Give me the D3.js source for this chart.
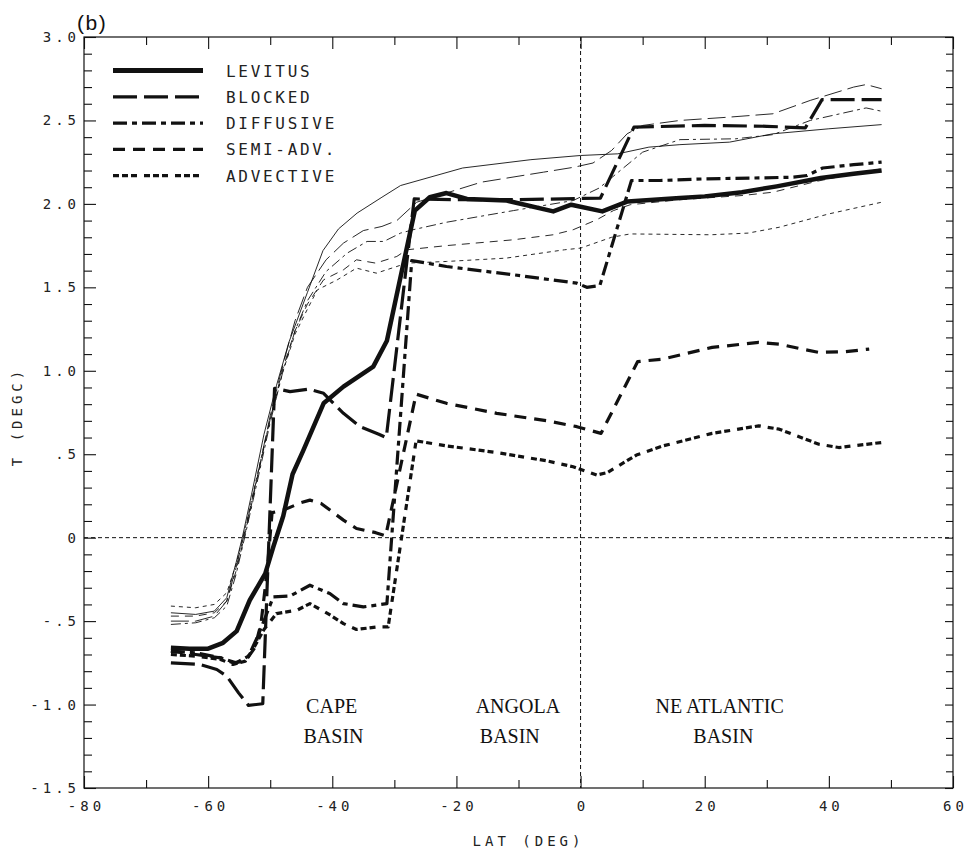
<!DOCTYPE html>
<html>
<head>
<meta charset="utf-8">
<script src="https://cdn.jsdelivr.net/npm/d3@7"></script>
<style>
  html, body { margin: 0; padding: 0; background: #fff; }
  svg { display: block; }
  .tick-label { font-family: "DejaVu Sans Mono", monospace; font-size: 14px; letter-spacing: 4px; fill: #222; }
  .legend-label { font-family: "DejaVu Sans Mono", monospace; font-size: 16px; letter-spacing: 2.7px; fill: #222; }
  .basin { font-family: "Liberation Serif", "Times New Roman", serif; font-size: 20px; fill: #111; }
</style>
</head>
<body>
<svg id="chart" width="967" height="854"></svg>
<script>
// Bottom-water temperature along the section: Levitus climatology and four model runs.
// Each series is a list of [latitude (deg), temperature (degC)].
const levitus = [
  [-66,-0.66],[-63,-0.665],[-60,-0.665],[-57.6,-0.63],[-55.4,-0.56],[-53.3,-0.375],[-50.8,-0.215],
  [-49.5,-0.055],[-47.9,0.13],[-46.4,0.38],[-44.7,0.52],[-41.4,0.805],[-38.2,0.905],[-33.4,1.025],
  [-31.2,1.18],[-29.1,1.545],[-26.7,1.96],[-24.3,2.04],[-21.6,2.065],[-18.3,2.03],[-11.9,2.02],
  [-4.4,1.955],[-1.5,1.995],[3.5,1.955],[7.6,2.015],[16,2.035],[20,2.045],[26,2.07],[31.6,2.105],
  [38.7,2.155],[44,2.18],[48.5,2.2]
];
const blocked = [
  [-66,-0.75],[-61.3,-0.76],[-58.6,-0.79],[-57,-0.83],[-55.1,-0.93],[-53.5,-1.005],[-51.2,-0.995],
  [-49.3,0.895],[-46.8,0.875],[-43.8,0.89],[-41.4,0.865],[-38.2,0.745],[-35.5,0.665],[-32.5,0.62],
  [-31.3,0.6],[-26.8,2.03],[-20,2.025],[-10,2.025],[3.2,2.035],[8.6,2.46],[20,2.47],[30,2.465],
  [36.2,2.455],[38.9,2.625],[48.5,2.625]
];
const diffusive = [
  [-66,-0.68],[-62,-0.69],[-58,-0.72],[-55.5,-0.75],[-53.5,-0.71],[-52,-0.59],[-50.5,-0.45],
  [-49.5,-0.355],[-46.8,-0.35],[-43.6,-0.285],[-40.4,-0.335],[-38.2,-0.395],[-35,-0.415],[-31.2,-0.395],
  [-27.2,1.66],[-21.6,1.625],[-10.8,1.575],[-0.6,1.525],[1,1.5],[3.1,1.51],[8.2,2.14],[12.8,2.14],
  [20,2.15],[28,2.155],[34.3,2.16],[36.5,2.17],[39,2.215],[44,2.235],[48.5,2.25]
];
const semiAdv = [
  [-66,-0.68],[-62,-0.7],[-58,-0.72],[-56,-0.75],[-54,-0.74],[-52.5,-0.66],[-51.5,-0.52],[-50.5,-0.2],
  [-49.7,0.15],[-47.9,0.165],[-45,0.21],[-43.6,0.225],[-41.8,0.205],[-38.2,0.105],[-36.1,0.055],
  [-33,0.03],[-31.4,0.01],[-26.5,0.86],[-21.6,0.805],[-13.5,0.745],[-5.4,0.7],[-0.6,0.665],[3.3,0.625],
  [9.2,1.055],[13.2,1.07],[21.2,1.14],[28.7,1.17],[32,1.16],[35.7,1.13],[38.4,1.11],[42.7,1.115],[46.5,1.13]
];
const advective = [
  [-66,-0.7],[-62,-0.71],[-58,-0.73],[-56,-0.76],[-54,-0.74],[-52.5,-0.65],[-51,-0.55],[-49,-0.455],
  [-45.7,-0.435],[-43.6,-0.395],[-40.5,-0.46],[-38.2,-0.515],[-36.1,-0.55],[-32.8,-0.535],[-31,-0.535],
  [-26.5,0.58],[-21.6,0.55],[-13.5,0.51],[-5.4,0.46],[-1.2,0.425],[2.6,0.375],[4.3,0.39],[9,0.495],
  [13.3,0.55],[21.2,0.625],[28.7,0.67],[32,0.65],[38.4,0.56],[41.6,0.54],[48.5,0.57]
];

// Companion set drawn with thin strokes in the same dash styles.
const levitusThin = [
  [-66,-0.45],[-62,-0.46],[-59,-0.44],[-57,-0.36],[-55.5,-0.15],[-54.5,0],[-53,0.26],[-51,0.62],
  [-49,0.91],[-47,1.17],[-44,1.47],[-41.5,1.72],[-39,1.85],[-36,1.945],[-32,2.04],[-29,2.11],
  [-19,2.215],[-8,2.265],[0,2.29],[6,2.3],[11,2.34],[16,2.355],[24,2.37],[31,2.42],[40,2.45],[48.5,2.475]
];
const blockedThin = [
  [-66,-0.5],[-62,-0.5],[-59,-0.47],[-57,-0.38],[-55.5,-0.18],[-54,0.05],[-52,0.38],[-50,0.73],
  [-48,1.03],[-46,1.3],[-44,1.5],[-41,1.665],[-38.2,1.765],[-35,1.84],[-32,1.865],[-29.6,1.9],
  [-26.4,2.01],[-16,2.13],[-6,2.19],[-1,2.22],[2,2.245],[5,2.32],[7.5,2.42],[10,2.47],[16,2.5],
  [24,2.52],[31,2.54],[37,2.62],[44,2.7],[46,2.715],[48.5,2.69]
];
const diffusiveThin = [
  [-66,-0.52],[-62,-0.51],[-59,-0.48],[-57,-0.41],[-55.5,-0.22],[-54,0.02],[-52,0.35],[-50,0.69],
  [-48,0.99],[-46,1.24],[-44,1.42],[-41,1.595],[-37.6,1.705],[-34.4,1.775],[-31.7,1.775],[-29,1.825],
  [-27,1.845],[-21.6,1.89],[-10.8,1.96],[-1.2,2.02],[3,2.095],[6.4,2.2],[10,2.31],[16,2.385],
  [25,2.39],[31,2.415],[37,2.5],[46,2.575],[48.5,2.555]
];
const semiAdvThin = [
  [-66,-0.47],[-62,-0.47],[-59,-0.45],[-57,-0.38],[-55.5,-0.2],[-54,0.03],[-52,0.37],[-50,0.71],
  [-48,1.01],[-46,1.24],[-44,1.4],[-41.4,1.545],[-38.2,1.605],[-36.1,1.665],[-33,1.645],[-29.6,1.685],
  [-28,1.725],[-21.6,1.75],[-10.8,1.785],[-4.4,1.815],[-1.2,1.845],[2.6,1.905],[5.3,1.96],[8,1.995],
  [16,2.025],[26,2.05],[31,2.07],[38,2.135],[44,2.18],[48.5,2.21]
];
const advectiveThin = [
  [-66,-0.41],[-62,-0.42],[-59,-0.4],[-57,-0.33],[-55.5,-0.16],[-54,0.06],[-52,0.39],[-50,0.71],
  [-48,0.99],[-46,1.22],[-44,1.37],[-42.4,1.485],[-39.2,1.545],[-36.1,1.615],[-32.9,1.585],[-29.6,1.625],
  [-28,1.645],[-21.6,1.655],[-12,1.675],[-2.6,1.725],[0,1.735],[5,1.8],[8,1.82],[21,1.815],[27,1.825],
  [32,1.86],[40,1.94],[48.5,2.01]
];

const legendNames = ["LEVITUS", "BLOCKED", "DIFFUSIVE", "SEMI-ADV.", "ADVECTIVE"];
const xTicksMajor = [-80, -60, -40, -20, 0, 20, 40, 60];
const xTicksMinor = [-70, -50, -30, -10, 10, 30, 50];
const yTicksMajor = [-1.5, -1.0, -0.5, 0, 0.5, 1.0, 1.5, 2.0, 2.5, 3.0];
const yTicksMinor = [-1.4,-1.3,-1.2,-1.1,-0.9,-0.8,-0.7,-0.6,-0.4,-0.3,-0.2,-0.1,0.1,0.2,0.3,0.4,
                     0.6,0.7,0.8,0.9,1.1,1.2,1.3,1.4,1.6,1.7,1.8,1.9,2.1,2.2,2.3,2.4,2.6,2.7,2.8,2.9];
const basinLabels = [
  { lines: ["CAPE", "BASIN"], lat: [-40.1, -39.8] },
  { lines: ["ANGOLA", "BASIN"], lat: [-10.1, -11.4] },
  { lines: ["NE ATLANTIC", "BASIN"], lat: [22.4, 23.0] }
];

const svg = d3.select("#chart");
const W = 967, H = 854;
const m = { left: 84, right: 14, top: 37, bottom: 66 };
const x = d3.scaleLinear().domain([-80, 60]).range([m.left, W - m.right]);
const y = d3.scaleLinear().domain([-1.5, 3.0]).range([H - m.bottom, m.top]);
const ink = "#111";

// line styles: thick width, thick dash, thin dash
const styles = {
  levitus:   { w: 4.5, dash: null,            thinDash: null },
  blocked:   { w: 3.2, dash: "24,7",          thinDash: "18,6" },
  diffusive: { w: 3.2, dash: "14,5,5,5",      thinDash: "10,4,3,4" },
  semiAdv:   { w: 3.2, dash: "12,8",          thinDash: "8,6" },
  advective: { w: 3.2, dash: "6,3,6,3,6,7",   thinDash: "4,4" }
};

// frame
svg.append("rect").attr("x", x(-80)).attr("y", y(3)).attr("width", x(60) - x(-80))
  .attr("height", y(-1.5) - y(3)).attr("fill", "none").attr("stroke", ink).attr("stroke-width", 1.2);

function styleAxis(g) {
  g.select(".domain").remove();
  g.selectAll(".tick line").attr("stroke", ink).attr("stroke-width", 1.1);
  g.selectAll(".tick text").attr("class", "tick-label").attr("font-family", null).attr("font-size", null).attr("fill", null);
}
const fmtY = d => d === 0 ? "0" : d.toFixed(1).replace(/^(-?)0\./, "$1.");

// bottom axis
svg.append("g").attr("transform", `translate(0,${y(-1.5)})`)
  .call(d3.axisBottom(x).tickValues(xTicksMajor).tickSizeInner(-12).tickSizeOuter(0).tickPadding(10).tickFormat(d => String(d)))
  .call(styleAxis)
  .call(g => g.selectAll(".tick text").attr("dx", "2px").attr("dy", "0.9em"));
svg.append("g").attr("transform", `translate(0,${y(-1.5)})`)
  .call(d3.axisBottom(x).tickValues(xTicksMinor).tickSizeInner(-8).tickSizeOuter(0).tickFormat(""))
  .call(styleAxis);
// top axis
svg.append("g").attr("transform", `translate(0,${y(3)})`)
  .call(d3.axisTop(x).tickValues(xTicksMajor).tickSizeInner(-12).tickSizeOuter(0).tickFormat(""))
  .call(styleAxis);
svg.append("g").attr("transform", `translate(0,${y(3)})`)
  .call(d3.axisTop(x).tickValues(xTicksMinor).tickSizeInner(-8).tickSizeOuter(0).tickFormat(""))
  .call(styleAxis);
// left axis
svg.append("g").attr("transform", `translate(${x(-80)},0)`)
  .call(d3.axisLeft(y).tickValues(yTicksMajor).tickSizeInner(-12).tickSizeOuter(0).tickPadding(8).tickFormat(fmtY))
  .call(styleAxis)
  .call(g => g.selectAll(".tick text").attr("dx", "4px"));
svg.append("g").attr("transform", `translate(${x(-80)},0)`)
  .call(d3.axisLeft(y).tickValues(yTicksMinor).tickSizeInner(-8).tickSizeOuter(0).tickFormat(""))
  .call(styleAxis);
// right axis
svg.append("g").attr("transform", `translate(${x(60)},0)`)
  .call(d3.axisRight(y).tickValues(yTicksMajor).tickSizeInner(-8).tickSizeOuter(0).tickFormat(""))
  .call(styleAxis);
svg.append("g").attr("transform", `translate(${x(60)},0)`)
  .call(d3.axisRight(y).tickValues(yTicksMinor).tickSizeInner(-7).tickSizeOuter(0).tickFormat(""))
  .call(styleAxis);

// zero reference lines
svg.append("line").attr("x1", x(-80)).attr("x2", x(60)).attr("y1", y(0)).attr("y2", y(0))
  .attr("stroke", ink).attr("stroke-width", 1).attr("stroke-dasharray", "4,3");
svg.append("line").attr("x1", x(0)).attr("x2", x(0)).attr("y1", y(3)).attr("y2", y(-1.5))
  .attr("stroke", ink).attr("stroke-width", 1).attr("stroke-dasharray", "4,3");

// axis titles
svg.append("text").attr("class", "tick-label").attr("x", (x(-80) + x(60)) / 2 + 10).attr("y", 846)
  .attr("text-anchor", "middle").text("LAT (DEG)");
svg.append("text").attr("class", "tick-label")
  .attr("transform", `translate(22,${(y(3) + y(-1.5)) / 2 + 4}) rotate(-90)`)
  .attr("text-anchor", "middle").text("T (DEGC)");
svg.append("text").attr("x", 77).attr("y", 30).attr("letter-spacing", 1.5)
  .attr("font-family", "Liberation Sans, Arial, sans-serif").attr("font-size", 21).attr("fill", ink).text("(b)");

// series
const line = d3.line().x(d => x(d[0])).y(d => y(d[1]));
const thin = [
  [levitusThin, styles.levitus], [blockedThin, styles.blocked], [diffusiveThin, styles.diffusive],
  [semiAdvThin, styles.semiAdv], [advectiveThin, styles.advective]
];
const thick = [
  [advective, styles.advective], [semiAdv, styles.semiAdv], [diffusive, styles.diffusive],
  [blocked, styles.blocked], [levitus, styles.levitus]
];
const plot = svg.append("g");
thin.forEach(([data, s]) => {
  plot.append("path").attr("d", line(data)).attr("fill", "none").attr("stroke", ink)
    .attr("stroke-width", 0.9).attr("stroke-dasharray", s.thinDash).attr("stroke-linejoin", "round");
});
thick.forEach(([data, s]) => {
  plot.append("path").attr("d", line(data)).attr("fill", "none").attr("stroke", ink)
    .attr("stroke-width", s.w).attr("stroke-dasharray", s.dash).attr("stroke-linejoin", "round");
});

// legend
const legendStyles = [styles.levitus, styles.blocked, styles.diffusive, styles.semiAdv, styles.advective];
const lg = svg.append("g");
legendNames.forEach((name, i) => {
  const yy = 70.5 + i * 26.3;
  const s = legendStyles[i];
  lg.append("line").attr("x1", 113).attr("x2", 203).attr("y1", yy).attr("y2", yy)
    .attr("stroke", ink).attr("stroke-width", i === 0 ? 5 : s.w).attr("stroke-dasharray", s.dash);
  lg.append("text").attr("class", "legend-label").attr("x", 226).attr("y", yy + 6).text(name);
});

// basin annotations
basinLabels.forEach(b => {
  b.lines.forEach((t, j) => {
    svg.append("text").attr("class", "basin").attr("text-anchor", "middle")
      .attr("x", x(b.lat[j])).attr("y", y(j === 0 ? -1.05 : -1.23)).text(t);
  });
});
</script>
</body>
</html>
